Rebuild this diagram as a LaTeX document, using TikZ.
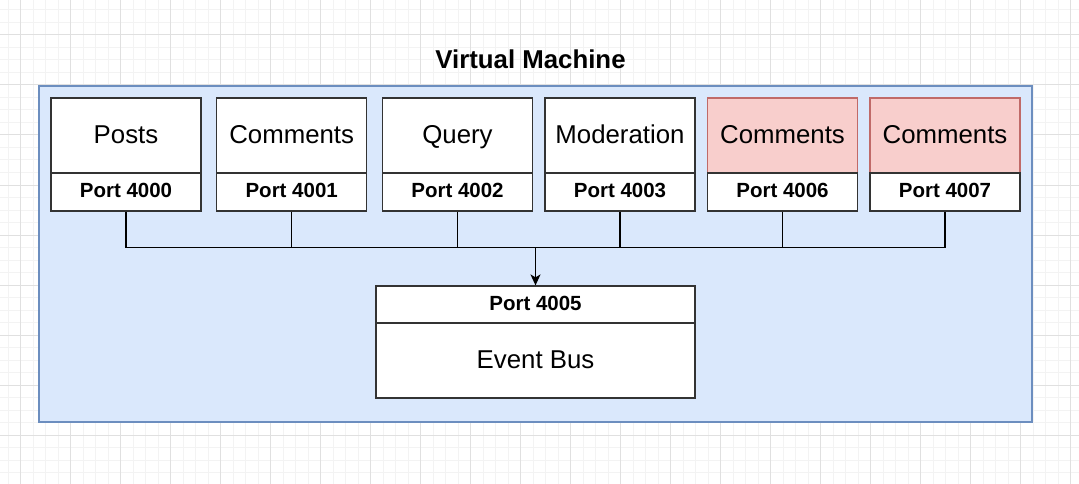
\documentclass[tikz,border=0pt]{standalone}
\usepackage{fontspec}
\setmainfont{Liberation Sans}
\usetikzlibrary{arrows.meta}
\definecolor{vmfill}{HTML}{DAE8FC}
\definecolor{vmline}{HTML}{6C8EBF}
\definecolor{redfill}{HTML}{F8CECC}
\definecolor{redline}{HTML}{C06A68}
\definecolor{boxline}{HTML}{333333}
\definecolor{gridminor}{HTML}{F3F3F3}
\definecolor{gridmajor}{HTML}{E0E0E0}
\begin{document}
\begin{tikzpicture}[x=1pt,y=-1pt,
  svc/.style={draw=boxline, fill=white, line width=1.2pt, inner sep=0pt,
    minimum width=150pt, text height=45.3pt, text depth=29.7pt,
    font=\fontsize{25.8}{30}\selectfont},
  redsvc/.style={svc, draw=redline, fill=redfill},
  port/.style={draw=boxline, fill=white, line width=1.2pt, inner sep=0pt,
    minimum width=150pt, text height=24.3pt, text depth=13.7pt,
    font=\bfseries\fontsize{20.5}{24}\selectfont},
  conn/.style={draw=black, line width=1.1pt},
  minorgrid/.style={draw=gridminor, line width=1pt},
  majorgrid/.style={draw=gridmajor, line width=1pt}]
\useasboundingbox (0,0) rectangle (1079,484);
\fill[white] (0,0) rectangle (1079,484);
% grid
\foreach \i in {0,...,85} {\draw[minorgrid] ({8+12.5*\i},0) -- ({8+12.5*\i},484);}
\foreach \i in {0,...,37} {\draw[minorgrid] (0,{10+12.5*\i}) -- (1079,{10+12.5*\i});}
\foreach \i in {0,...,21} {\draw[majorgrid] ({20.5+50*\i},0) -- ({20.5+50*\i},484);}
\foreach \i in {0,...,8} {\draw[majorgrid] (0,{35+50*\i}) -- (1079,{35+50*\i});}
% container
\node[draw=vmline, fill=vmfill, line width=1.1pt, inner sep=0pt,
  minimum width=993pt, minimum height=336pt] (vm) at (535.5,254) {};
\node[anchor=base, font=\bfseries\fontsize{25.8}{30}\selectfont] (title) at (530.5,69) {Virtual Machine};
% services
\node[svc] (posts) at (126,135.5) {Posts};
\node[port] (postsp) at (126,192) {Port 4000};
\node[svc] (comm1) at (291.7,135.5) {Comments};
\node[port] (comm1p) at (291.7,192) {Port 4001};
\node[svc] (query) at (457.5,135.5) {Query};
\node[port] (queryp) at (457.5,192) {Port 4002};
\node[svc] (mod) at (620,135.5) {Moderation};
\node[port] (modp) at (620,192) {Port 4003};
\node[redsvc] (comm2) at (782.5,135.5) {Comments};
\node[port] (comm2p) at (782.5,192) {Port 4006};
\node[redsvc] (comm3) at (945,135.5) {Comments};
\node[port] (comm3p) at (945,192) {Port 4007};
% event bus
\node[port, minimum width=319pt, text height=24pt, text depth=13pt] (busp) at (535.5,304.5) {Port 4005};
\node[svc, minimum width=319pt] (bus) at (535.5,360.5) {Event Bus};
% connectors
\coordinate (jn) at (535.5,247.5);
\foreach \n in {postsp,comm1p,queryp,modp,comm2p,comm3p} {\draw[conn] (\n.south) |- (jn);}
\draw[conn, line width=1.4pt, -{Stealth[length=11pt,width=10pt,inset=3pt]}] (jn) -- (busp.north);
\end{tikzpicture}
\end{document}
